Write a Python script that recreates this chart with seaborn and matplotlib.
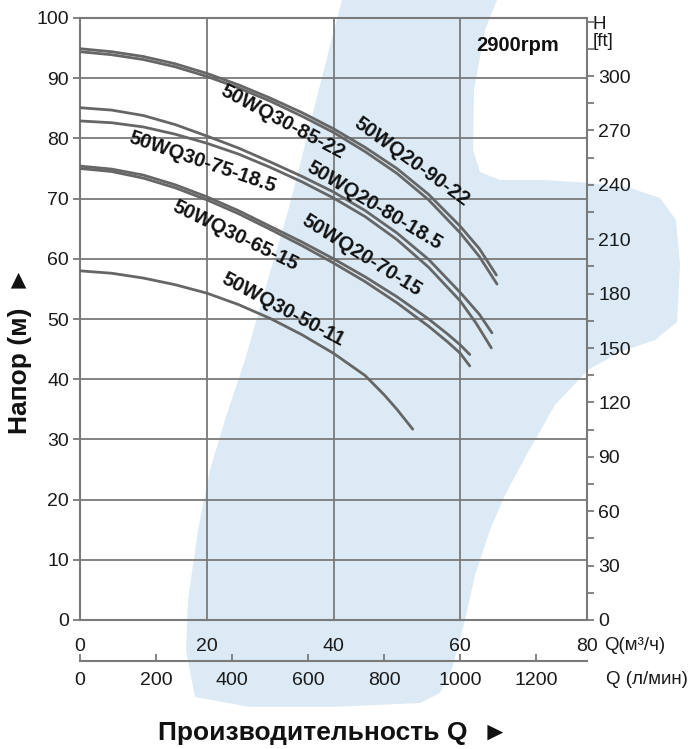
import numpy as np
import pandas as pd
import matplotlib
matplotlib.use("Agg")
import matplotlib.pyplot as plt
from matplotlib.patches import Polygon
from matplotlib.ticker import MultipleLocator
import seaborn as sns

# ---------------- data ----------------
q_90_22 = [0, 5, 10, 15, 20, 25, 30, 35, 40, 45, 50, 55, 60, 63, 65.7]
h_90_22 = [94.9, 94.4, 93.6, 92.4, 90.8, 88.9, 86.7, 84.3, 81.6, 78.5, 75.0, 70.7, 65.4, 61.7, 57.3]

q_85_22 = [0, 5, 10, 15, 20, 25, 30, 35, 40, 45, 50, 55, 60, 63, 65.8]
h_85_22 = [94.4, 93.9, 93.1, 91.9, 90.3, 88.4, 86.2, 83.7, 81.0, 77.8, 74.2, 69.8, 64.3, 60.4, 55.8]

q_80_185 = [0, 5, 10, 15, 20, 25, 30, 35, 40, 45, 50, 55, 60, 63, 65.0]
h_80_185 = [85.1, 84.7, 83.8, 82.3, 80.4, 78.4, 76.1, 73.7, 71.1, 68.0, 64.3, 59.9, 54.4, 50.8, 47.7]

q_75_185 = [0, 5, 10, 15, 20, 25, 30, 35, 40, 45, 50, 55, 60, 62.5, 64.9]
h_75_185 = [82.9, 82.6, 81.9, 80.7, 79.2, 77.4, 75.2, 72.8, 70.1, 67.0, 63.2, 58.6, 53.0, 49.3, 45.2]

q_70_15 = [0, 5, 10, 15, 20, 25, 30, 35, 40, 45, 50, 55, 58, 60, 61.5]
h_70_15 = [75.4, 74.9, 73.9, 72.3, 70.3, 68.0, 65.4, 62.8, 60.0, 57.0, 53.7, 50.0, 47.5, 45.7, 44.1]

q_65_15 = [0, 5, 10, 15, 20, 25, 30, 35, 40, 45, 50, 55, 58, 60, 61.5]
h_65_15 = [75.0, 74.5, 73.4, 71.8, 69.8, 67.5, 64.9, 62.2, 59.3, 56.2, 52.7, 48.8, 46.2, 44.3, 42.2]

q_50_11 = [0, 5, 10, 15, 20, 25, 30, 35, 40, 45, 48, 50, 52.5]
h_50_11 = [58.0, 57.6, 56.8, 55.7, 54.3, 52.4, 50.1, 47.4, 44.3, 40.6, 37.4, 35.0, 31.7]

models = ["50WQ20-90-22", "50WQ30-85-22", "50WQ20-80-18.5", "50WQ30-75-18.5",
          "50WQ20-70-15", "50WQ30-65-15", "50WQ30-50-11"]
series_q = [q_90_22, q_85_22, q_80_185, q_75_185, q_70_15, q_65_15, q_50_11]
series_h = [h_90_22, h_85_22, h_80_185, h_75_185, h_70_15, h_65_15, h_50_11]

# label positions (Q, H) and rotation
label_q = [52.4, 31.9, 46.5, 19.4, 44.5, 24.5, 32.0]
label_h = [76.1, 82.7, 68.9, 76.1, 60.5, 63.8, 51.5]
label_rot = [-36, -28, -31, -19, -32, -26, -28]

x_ticks = [0, 20, 40, 60, 80]
y_ticks = [0, 10, 20, 30, 40, 50, 60, 70, 80, 90, 100]
ft_ticks = [0, 30, 60, 90, 120, 150, 180, 210, 240, 270, 300]
lmin_ticks = [0, 200, 400, 600, 800, 1000, 1200]

rows = []
for m, qs, hs in zip(models, series_q, series_h):
    for q, h in zip(qs, hs):
        rows.append({"model": m, "Q": q, "H": h})
df = pd.DataFrame(rows)

# ---------------- figure ----------------
sns.set_style("white")
plt.rcParams["font.family"] = ["Liberation Sans", "DejaVu Sans"]

W, H = 688, 749
fig = plt.figure(figsize=(W / 100, H / 100), dpi=100)

def fx(px):
    return px / W

def fy(py):
    return 1 - py / H

# light-blue background blob (decoration)
blob_px = [(342, 0), (497, 0), (485, 30), (474, 90), (473, 150), (480, 172), (500, 180),
           (545, 180), (590, 183), (630, 188), (660, 198), (676, 220), (680, 265),
           (677, 322), (655, 340), (620, 352), (588, 370), (555, 405), (527, 454),
           (505, 495), (490, 530), (475, 575), (465, 620), (452, 669), (440, 693),
           (420, 703), (330, 707), (250, 707), (195, 697), (186, 650), (188, 600),
           (198, 530), (210, 470), (225, 420), (245, 360), (265, 290), (287, 215),
           (300, 165), (315, 105), (332, 38)]
blob = Polygon([(fx(x), fy(y)) for x, y in blob_px], closed=True,
               transform=fig.transFigure, facecolor="#dbeaf5", edgecolor="none", zorder=0)
fig.add_artist(blob)

ax = fig.add_axes([fx(80), fy(620), fx(587) - fx(80), fy(18) - fy(620)])
ax.patch.set_alpha(0)

grid_c = "#7a7a7a"
curve_c = "#666666"

palette = {m: curve_c for m in models}
sns.lineplot(data=df, x="Q", y="H", hue="model", palette=palette, ax=ax,
             legend=False, linewidth=2.0, sort=False, estimator=None, zorder=3)

ax.set_xlim(0, 80)
ax.set_ylim(0, 100)
ax.set_xticks(x_ticks)
ax.set_yticks(y_ticks)
ax.grid(True, color=grid_c, linewidth=1.3)
for s in ax.spines.values():
    s.set_color(grid_c)
    s.set_linewidth(1.5)
ax.tick_params(axis="both", which="major", colors=grid_c, labelcolor="#1a1a1a",
               labelsize=14, length=5, width=1.3, direction="out")
ax.tick_params(axis="x", pad=8)
ax.tick_params(axis="y", pad=3)
ax.set_xlabel("")
ax.set_ylabel("")

for m, q, h, r in zip(models, label_q, label_h, label_rot):
    ax.text(q, h, m, rotation=r, ha="center", va="center", rotation_mode="anchor",
            fontsize=14.5, fontweight="bold", color="#111111", zorder=4)

ax.text(69.1, 95.5, "2900rpm", ha="center", va="center", fontsize=14.5,
        fontweight="bold", color="#111111")

# right axis in feet
axr = ax.twinx()
axr.set_ylim(0, 332)
axr.set_yticks(ft_ticks)
axr.yaxis.set_minor_locator(MultipleLocator(15))
axr.tick_params(axis="y", which="both", colors=grid_c, labelcolor="#1a1a1a",
                labelsize=14, length=5, width=1.3, direction="out", pad=3)
axr.tick_params(axis="y", which="minor", length=5)
for s in axr.spines.values():
    s.set_visible(False)
axr.grid(False)

# secondary bottom axis in l/min
sec = ax.secondary_xaxis(-0.068, functions=(lambda q: q * 1000 / 60, lambda l: l * 60 / 1000))
sec.set_xticks(lmin_ticks)
sec.tick_params(axis="x", colors=grid_c, labelcolor="#1a1a1a", labelsize=14,
                length=5, width=1.3, direction="in", pad=8)
sec.spines["bottom"].set_color(grid_c)
sec.spines["bottom"].set_linewidth(1.5)

# unit texts
fig.text(fx(593), fy(16), "H\n[ft]", ha="left", va="top", fontsize=13.5,
         linespacing=1.0, color="#1a1a1a")
fig.text(fx(604), fy(645), "Q(м³/ч)", ha="left", va="center", fontsize=13.5, color="#1a1a1a")
fig.text(fx(606), fy(679), "Q (л/мин)", ha="left", va="center", fontsize=13.5, color="#1a1a1a")

# axis titles
fig.text(fx(20), fy(350), "Напор (м)  ►", rotation=90, ha="center", va="center",
         fontsize=19, fontweight="bold", color="#111111")
fig.text(fx(333), fy(733), "Производительность Q  ►", ha="center", va="center",
         fontsize=19, fontweight="bold", color="#111111")

fig.savefig("out.png", dpi=100)
